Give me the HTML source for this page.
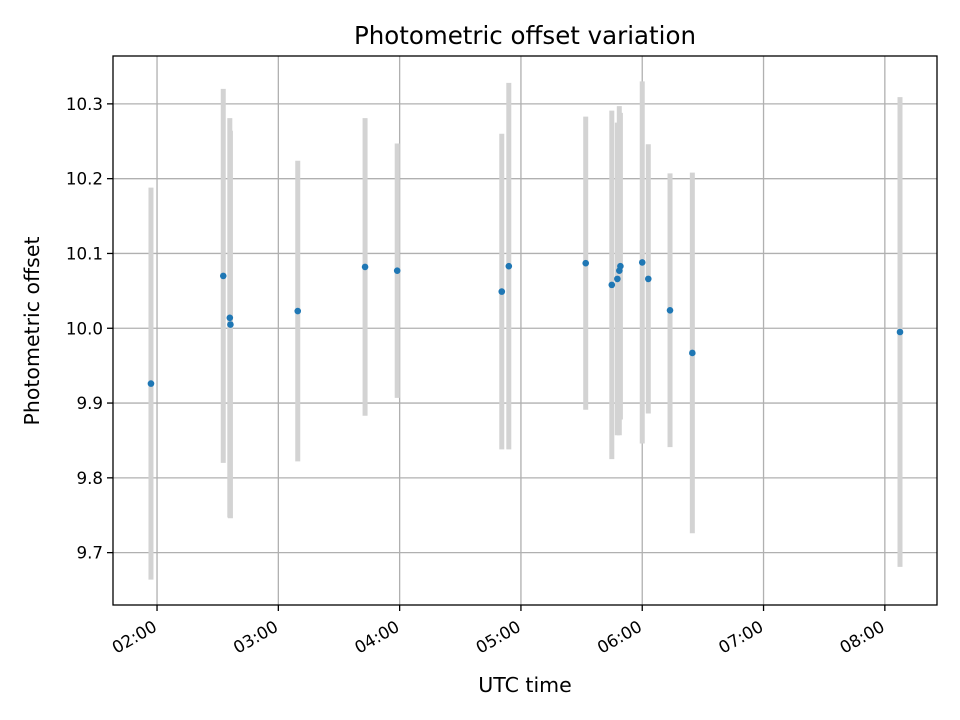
<!DOCTYPE html>
<html><head><meta charset="utf-8"><style>body{margin:0;background:#fff}svg{display:block;font-family:"DejaVu Sans","Liberation Sans",sans-serif}</style></head>
<body>
<svg id="chart" width="960" height="720" xmlns="http://www.w3.org/2000/svg">
<rect width="960" height="720" fill="#fff"/>
<g id="grid"></g><g id="bars"></g><g id="pts"></g><g id="axes"></g>
<text x="525" y="44" text-anchor="middle" font-size="24.5">Photometric offset variation</text>
<text x="525" y="692" text-anchor="middle" font-size="20.5">UTC time</text>
<text transform="translate(39,331) rotate(-90)" text-anchor="middle" font-size="20.5">Photometric offset</text>
</svg>
<script>
const hours = [1.95,2.546,2.60,2.605,3.16,3.715,3.98,4.842,4.90,5.534,5.749,5.795,5.811,5.82,6.0,6.05,6.229,6.413,8.125];
const values = [9.926,10.070,10.014,10.005,10.023,10.082,10.077,10.049,10.083,10.087,10.058,10.066,10.077,10.083,10.088,10.066,10.024,9.967,9.995];
const errors = [0.262,0.25,0.267,0.259,0.201,0.199,0.17,0.211,0.245,0.196,0.233,0.209,0.22,0.205,0.242,0.18,0.183,0.241,0.314];
const yTicks = [9.7,9.8,9.9,10.0,10.1,10.2,10.3];
const xTicks = [2,3,4,5,6,7,8];
const xTickLabels = ["02:00","03:00","04:00","05:00","06:00","07:00","08:00"];
const L=113,R=937,T=56,B=605, x0=1.637,x1=8.43,y0=9.630,y1=10.364;
const X=h=>L+(h-x0)/(x1-x0)*(R-L);
const Y=v=>B-(v-y0)/(y1-y0)*(B-T);
const NS="http://www.w3.org/2000/svg";
function mk(p,t,a){const e=document.createElementNS(NS,t);for(const k in a)e.setAttribute(k,a[k]);p.appendChild(e);return e;}
const grid=document.getElementById('grid'),bars=document.getElementById('bars'),pts=document.getElementById('pts'),axes=document.getElementById('axes');
xTicks.forEach((h,i)=>{const x=X(h);
const g=mk(grid,'line',{x1:x,x2:x,y1:T,y2:B,stroke:'#b0b0b0','stroke-width':1.3});


const t=mk(axes,'line',{x1:x,x2:x,y1:B,y2:B+6,stroke:'#000','stroke-width':1.3});


const lb=mk(axes,'text',{x:x+1,y:630,'text-anchor':'end','font-size':16.7,transform:`rotate(-30,${x+1},630)`});
lb.textContent=xTickLabels[i];


});
yTicks.forEach(v=>{const y=Y(v);
const g=mk(grid,'line',{x1:L,x2:R,y1:y,y2:y,stroke:'#b0b0b0','stroke-width':1.3});


const t=mk(axes,'line',{x1:L-6,x2:L,y1:y,y2:y,stroke:'#000','stroke-width':1.3});


const lb=mk(axes,'text',{x:L-10,y:y+6,'text-anchor':'end','font-size':16.7});
lb.textContent=v.toFixed(1);


});
const fr=mk(axes,'rect',{x:L,y:T,width:R-L,height:B-T,fill:'none',stroke:'#000','stroke-width':1.3});


hours.forEach((h,i)=>{const x=X(h);
const b=mk(bars,'line',{x1:x,x2:x,y1:Y(values[i]+errors[i]),y2:Y(values[i]-errors[i]),stroke:'#d3d3d3','stroke-width':5});


const c=mk(pts,'circle',{cx:x,cy:Y(values[i]),r:3.3,fill:'#1f77b4'});


});
</script>
</body></html>
